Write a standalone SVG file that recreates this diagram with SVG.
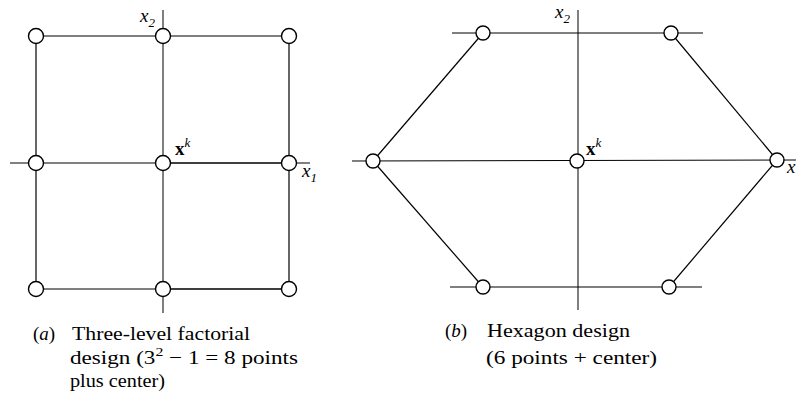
<svg xmlns="http://www.w3.org/2000/svg" width="796" height="400" viewBox="0 0 796 400">
<style>
.ln{stroke:#000;stroke-width:1.2;fill:none}
.ax{stroke:#000;stroke-width:1;fill:none}
.pt{fill:#fff;stroke:#000;stroke-width:1.4}
.cap{font-family:"Liberation Serif","Times New Roman",serif;font-size:19px;fill:#000}
.var{font-family:"Liberation Serif","Times New Roman",serif;font-style:italic;font-size:19px;fill:#000}
.xk{font-family:"Liberation Serif","Times New Roman",serif;font-weight:bold;font-size:19px;fill:#000}
.sub{font-size:13px}
</style>
<rect width="796" height="400" fill="#fff"/>
<g id="connectors">
  <line class="ax" x1="10" y1="163" x2="310" y2="163"/>
  <line class="ax" x1="163" y1="10" x2="163" y2="313"/>
  <line class="ln" x1="36" y1="36" x2="289" y2="36"/>
  <line class="ln" x1="36" y1="289" x2="289" y2="289"/>
  <line class="ln" x1="36" y1="36" x2="36" y2="289"/>
  <line class="ln" x1="289" y1="36" x2="289" y2="289"/>
  <line class="ln" x1="163" y1="163" x2="289" y2="163"/>
  <line class="ln" x1="163" y1="289" x2="289" y2="289" stroke-width="1.6"/>
  <line class="ax" x1="352" y1="161" x2="796" y2="160"/>
  <line class="ax" x1="578" y1="10" x2="578" y2="310"/>
  <line class="ln" x1="452" y1="33" x2="703" y2="33"/>
  <line class="ln" x1="450" y1="287" x2="702" y2="287"/>
  <line class="ln" x1="483" y1="33" x2="373" y2="161"/>
  <line class="ln" x1="373" y1="161" x2="483" y2="287"/>
  <line class="ln" x1="671" y1="33" x2="777" y2="160"/>
  <line class="ln" x1="777" y1="160" x2="669" y2="287"/>
</g>
<g id="a-p1"><circle class="pt" cx="36" cy="36" r="7.5"/></g>
<g id="a-p2"><circle class="pt" cx="163" cy="36" r="7.5"/></g>
<g id="a-p3"><circle class="pt" cx="289" cy="36" r="7.5"/></g>
<g id="a-p4"><circle class="pt" cx="36" cy="163" r="7.5"/></g>
<g id="a-center"><circle class="pt" cx="163" cy="163" r="7.5"/></g>
<g id="a-p5"><circle class="pt" cx="289" cy="163" r="7.5"/></g>
<g id="a-p6"><circle class="pt" cx="36" cy="289" r="7.5"/></g>
<g id="a-p7"><circle class="pt" cx="163" cy="289" r="7.5"/></g>
<g id="a-p8"><circle class="pt" cx="289" cy="289" r="7.5"/></g>
<g id="b-p1"><circle class="pt" cx="483" cy="33" r="7"/></g>
<g id="b-p2"><circle class="pt" cx="671" cy="33" r="7"/></g>
<g id="b-p3"><circle class="pt" cx="373" cy="161" r="7"/></g>
<g id="b-center"><circle class="pt" cx="577" cy="161" r="7"/></g>
<g id="b-p4"><circle class="pt" cx="777" cy="160" r="7"/></g>
<g id="b-p5"><circle class="pt" cx="483" cy="287" r="7"/></g>
<g id="b-p6"><circle class="pt" cx="669" cy="287" r="7"/></g>
<g id="labels">
  <text class="var" x="140" y="22">x<tspan class="sub" dy="5">2</tspan></text>
  <text class="var" x="302" y="177">x<tspan class="sub" dy="5">1</tspan></text>
  <text class="xk" x="175" y="155">x<tspan class="sub" dy="-8" font-weight="normal" font-style="italic">k</tspan></text>
  <text class="var" x="555" y="18">x<tspan class="sub" dy="5">2</tspan></text>
  <text class="xk" x="586" y="155">x<tspan class="sub" dy="-8" font-weight="normal" font-style="italic">k</tspan></text>
  <text class="var" x="787" y="173">x</text>
</g>
<g id="captions">
  <text class="cap" x="33" y="340">(<tspan font-style="italic">a</tspan>)</text>
  <text class="cap" x="72" y="340" textLength="178" lengthAdjust="spacingAndGlyphs">Three-level factorial</text>
  <text class="cap" x="70" y="364" textLength="228" lengthAdjust="spacingAndGlyphs">design (3<tspan class="sub" dy="-8">2</tspan><tspan dy="8"> − 1 = 8 points</tspan></text>
  <text class="cap" x="70" y="387" textLength="95" lengthAdjust="spacingAndGlyphs">plus center)</text>
  <text class="cap" x="445" y="337">(<tspan font-style="italic">b</tspan>)</text>
  <text class="cap" x="487" y="337" textLength="143" lengthAdjust="spacingAndGlyphs">Hexagon design</text>
  <text class="cap" x="486" y="364" textLength="171" lengthAdjust="spacingAndGlyphs">(6 points + center)</text>
</g>
</svg>
